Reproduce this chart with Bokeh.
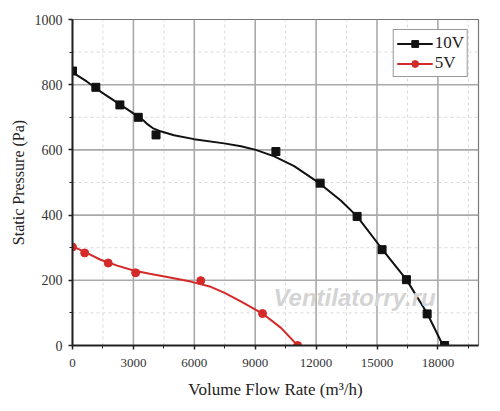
from bokeh.plotting import figure
from bokeh.models import FixedTicker, Range1d, Label, Legend, LegendItem
from bokeh.embed import file_html
from bokeh.resources import INLINE

# ---- data ----
v10_flow = [0, 1150, 2335, 3240, 4115, 10020, 12200, 14020, 15250, 16450, 17470, 18330]
v10_pres = [842, 792, 738, 700, 646, 595, 498, 396, 294, 202, 97, 0]
v10_fit_flow = [0, 700, 1380, 2370, 3240, 3500, 3690, 3950, 4340, 5000, 5990, 7470, 8300, 9030, 9940, 10920, 12160, 13230, 14020, 15250, 16450, 17470, 18250]
v10_fit_pres = [838, 810, 779, 738, 702, 690, 679, 667, 657, 645, 633, 620, 611, 600, 580, 550, 498, 444, 396, 296, 202, 99, 0]

v5_flow = [0, 600, 1760, 3110, 6320, 9360, 11090]
v5_pres = [302, 284, 253, 223, 199, 98, 0]
v5_fit_flow = [0, 600, 1380, 2200, 3010, 3800, 4670, 5820, 6810, 7470, 8290, 9360, 10270, 11090]
v5_fit_pres = [304, 287, 263, 245, 230, 220, 210, 196, 180, 162, 135, 98, 54, 0]

x_ticks = [0, 3000, 6000, 9000, 12000, 15000, 18000]
x_minor = [1500, 4500, 7500, 10500, 13500, 16500, 19500]
y_ticks = [0, 200, 400, 600, 800, 1000]
y_minor = [100, 300, 500, 700, 900]
x_lim = (0, 20000)
y_lim = (0, 1000)

series_labels = ["10V", "5V"]
x_title = "Volume Flow Rate (m\u00b3/h)"
y_title = "Static Pressure (Pa)"
watermark = "Ventilatorry.ru"

SERIF = "Liberation Serif"
BLACK = "#111111"
RED = "#d42a2a"

p = figure(width=491, height=402, output_backend="svg", toolbar_location=None,
           x_range=Range1d(*x_lim), y_range=Range1d(*y_lim),
           min_border_left=72, min_border_right=13, min_border_top=19, min_border_bottom=57)

p.outline_line_color = "#777777"
p.outline_line_width = 1.2
p.grid.visible = False

xt = FixedTicker(ticks=x_ticks, minor_ticks=x_minor)
yt = FixedTicker(ticks=y_ticks, minor_ticks=y_minor)
p.xaxis[0].ticker = xt
p.yaxis[0].ticker = yt

# minor grid: dashed, light
minor_xs = [[v, v] for v in x_minor] + [[x_lim[0], x_lim[1]] for _ in y_minor]
minor_ys = [[y_lim[0], y_lim[1]] for _ in x_minor] + [[v, v] for v in y_minor]
p.multi_line(minor_xs, minor_ys, line_color="#dadada", line_width=1, line_dash="3 3")

# major grid: solid, darker (drawn after the minor one)
xm = x_ticks[1:]
ym = y_ticks[1:-1]
major_xs = [[v, v] for v in xm] + [[x_lim[0], x_lim[1]] for _ in ym]
major_ys = [[y_lim[0], y_lim[1]] for _ in xm] + [[v, v] for v in ym]
p.multi_line(major_xs, major_ys, line_color="#a9a9a9", line_width=1.6, line_dash="solid")

for ax in (p.xaxis[0], p.yaxis[0]):
    ax.axis_line_color = "#222222"
    ax.axis_line_width = 2
    ax.major_tick_line_color = "#222222"
    ax.major_tick_line_width = 1.5
    ax.minor_tick_line_color = "#222222"
    ax.major_tick_in = 0
    ax.major_tick_out = 4
    ax.minor_tick_in = 0
    ax.minor_tick_out = 3
    ax.major_label_text_font = SERIF
    ax.major_label_text_color = "#333333"
    ax.axis_label_text_font = SERIF
    ax.axis_label_text_font_style = "normal"
    ax.axis_label_text_color = "#222222"

p.xaxis.major_label_text_font_size = "13px"
p.yaxis.major_label_text_font_size = "14px"
p.xaxis.major_label_standoff = 9
p.yaxis.major_label_standoff = 6
p.xaxis.axis_label = x_title
p.yaxis.axis_label = y_title
p.xaxis.axis_label_text_font_size = "17px"
p.yaxis.axis_label_text_font_size = "16px"
p.xaxis.axis_label_standoff = 10
p.yaxis.axis_label_standoff = 5

wm = Label(x=9900, y=105, text=watermark, text_font="Liberation Sans",
           text_font_size="24px", text_font_style="bold italic",
           text_color="#d4d4d4")
p.add_layout(wm)

l10 = p.line(v10_fit_flow, v10_fit_pres, line_color=BLACK, line_width=2)
s10 = p.scatter(v10_flow, v10_pres, marker="square", size=8, fill_color=BLACK, line_color=BLACK)
l5 = p.line(v5_fit_flow, v5_fit_pres, line_color=RED, line_width=2)
s5 = p.scatter(v5_flow, v5_pres, marker="circle", size=8, fill_color=RED, line_color=RED)

legend = Legend(items=[LegendItem(label=series_labels[0], renderers=[l10, s10]),
                       LegendItem(label=series_labels[1], renderers=[l5, s5])],
                location="top_right")
legend.label_text_font = SERIF
legend.label_text_font_size = "17px"
legend.label_text_color = "#222222"
legend.glyph_width = 36
legend.glyph_height = 17
legend.label_height = 17
legend.label_standoff = 2
legend.padding = 3
legend.spacing = 0
legend.margin = 10
legend.border_line_color = "#333333"
legend.border_line_width = 1
legend.background_fill_color = "white"
legend.background_fill_alpha = 1
p.add_layout(legend)

open("out.html", "w").write(file_html(p, INLINE))
